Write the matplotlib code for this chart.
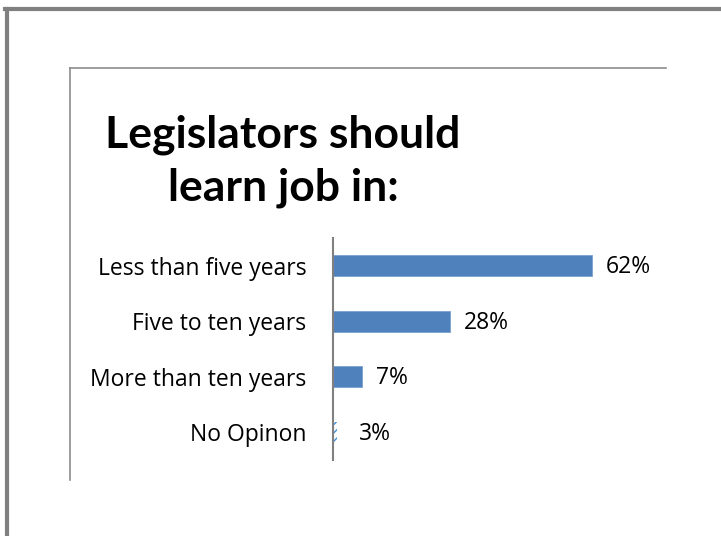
import matplotlib
matplotlib.use("Agg")
import matplotlib.pyplot as plt
from matplotlib.lines import Line2D

categories = ["Less than five years", "Five to ten years", "More than ten years", "No Opinon"]
values = [62, 28, 7, 3]
value_labels = ["62%", "28%", "7%", "3%"]
title = "Legislators should\nlearn job in:"

W, H = 721, 536
fig = plt.figure(figsize=(W / 100, H / 100), dpi=100)
fig.patch.set_facecolor("white")

def fx(x):
    return x / W

def fy(y):
    return 1 - y / H

# outer border (top and left)
fig.add_artist(Line2D([fx(5), fx(721)], [fy(9), fy(9)], color="#808080", lw=3))
fig.add_artist(Line2D([fx(7), fx(7)], [fy(9), fy(536)], color="#808080", lw=3))
# inner frame (top and left)
fig.add_artist(Line2D([fx(70), fx(666)], [fy(68), fy(68)], color="#8c8c8c", lw=1.2))
fig.add_artist(Line2D([fx(70), fx(70)], [fy(68), fy(480)], color="#8c8c8c", lw=1.2))

fig.text(fx(283), fy(161), title, ha="center", va="center", fontsize=32,
         fontweight="bold", family="Lato", linespacing=1.38)

ax = fig.add_axes([fx(333), fy(460), fx(666 - 333), (460 - 238) / H])
ypos = list(range(len(categories)))
ax.barh(ypos[:3], values[:3], height=0.38, color="#4F81BD", edgecolor="#7DA0CF", lw=0.6)
# the last bar is rendered only as faint dashed marks in the reference
ax.barh(ypos[3:], [0.9], height=0.38, color="none", edgecolor="#3D8FD9",
        hatch="////", lw=0)
ax.set_ylim(len(categories) - 0.5, -0.5)
ax.set_xlim(0, 333 / 4.18)
ax.set_yticks(ypos)
ax.set_yticklabels(categories, fontsize=16.5, family="Open Sans")
ax.tick_params(axis="y", length=0, pad=19)
ax.set_xticks([])
for s in ["top", "right", "bottom"]:
    ax.spines[s].set_visible(False)
ax.spines["left"].set_color("#808080")
ax.spines["left"].set_linewidth(1.5)
ax.patch.set_alpha(0)

for y, v, lab in zip(ypos, values, value_labels):
    ax.annotate(lab, (v, y), xytext=(10, -1), textcoords="offset points",
                ha="left", va="center", fontsize=16.5, family="Open Sans")

fig.savefig("out.png", dpi=100)
